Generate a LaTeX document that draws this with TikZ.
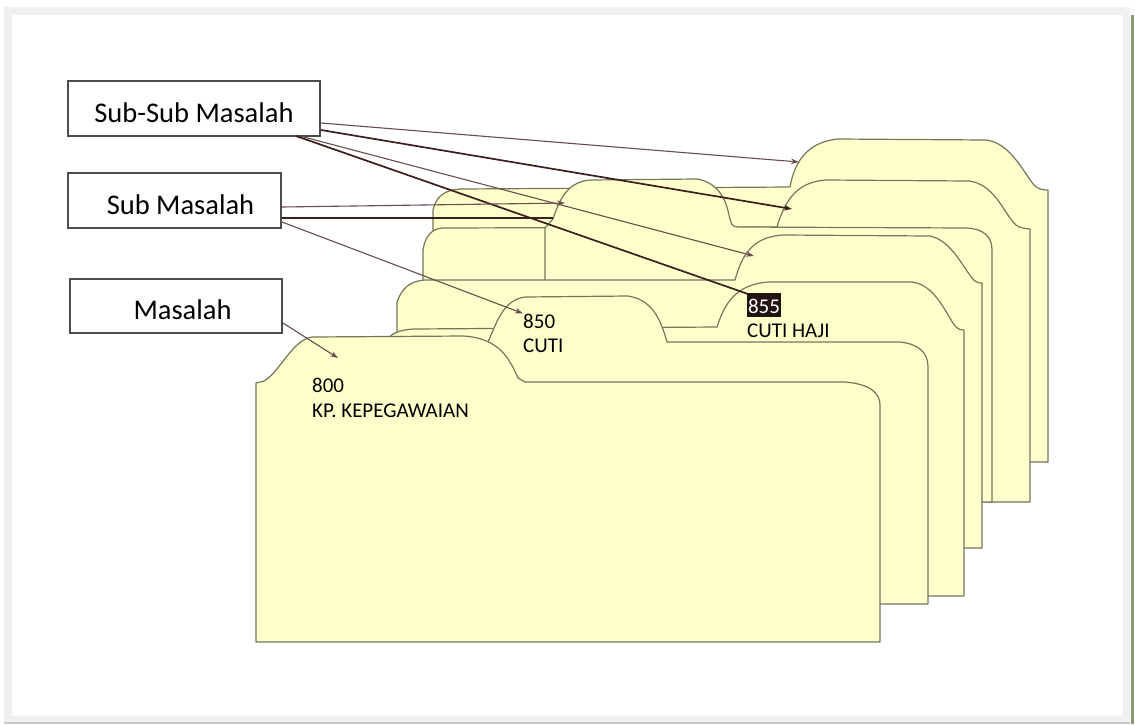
\documentclass[tikz,border=0pt]{standalone}
\usepackage{fontspec}
\setmainfont{Carlito}
\usetikzlibrary{arrows.meta}
\definecolor{folderfill}{HTML}{FFFFCC}
\definecolor{folderline}{HTML}{76765F}
\definecolor{arrowcol}{HTML}{3D1E1E}
\definecolor{arrowthin}{HTML}{6A4C4C}
\definecolor{framegray}{HTML}{F0F0F0}
\definecolor{frameedge}{HTML}{8A9A70}
\definecolor{hlbox}{HTML}{231212}
\begin{document}
\begin{tikzpicture}[x=1pt,y=-1pt,
  folder/.style={fill=folderfill,draw=folderline,line width=1.2pt,line join=round},
  mbox/.style={draw=black!70,line width=2.4pt,fill=white,inner sep=0pt,
    font=\fontsize{28.5}{34}\selectfont,text height=27pt,text depth=0pt},
  lbl/.style={font=\fontsize{21}{25}\selectfont,inner sep=0pt},
  thinarrow/.style={draw=arrowthin,line width=1.1pt,-{Stealth[length=8pt,width=5.5pt]}},
  thickarrow/.style={draw=arrowcol,line width=1.7pt,-{Stealth[length=8pt,width=5.5pt]}},
  thickline/.style={draw=arrowcol,line width=1.7pt}]
% background and frame
\fill[white] (0,0) rectangle (1135,724);
\fill[framegray,even odd rule] (4,7) rectangle (1130,722) (12,15) rectangle (1123,716);
\fill[frameedge] (1130.5,15) rectangle (1133.5,724);
\fill[black!22] (4,722) rectangle (1130,724);
\useasboundingbox (0,0) rectangle (1135,724);

% S1 backmost, tab at right
\path[folder] (433,462) -- (433,210) .. controls (436,196) and (445,190) .. (460,189)
  -- (790,187) .. controls (794,165) and (805,142) .. (838,139)
  -- (986,140) .. controls (1010,143) and (1022,170) .. (1034,185)
  .. controls (1038,189) and (1042,190) .. (1048,190) -- (1048,462) -- cycle;
% S2
\path[folder] (423,502) -- (423,250) .. controls (425,236) and (432,229) .. (442,228)
  -- (777,227) .. controls (785,200) and (797,182) .. (826,180)
  -- (969,181) .. controls (993,184) and (1003,210) .. (1013,222)
  .. controls (1017,227) and (1020,228) .. (1030,229) -- (1030,502) -- cycle;
% S3 front panel, tab at left
\path[folder] (545,502) -- (545,228) -- (553,219) .. controls (560,198) and (568,182) .. (590,180)
  -- (697,179) .. controls (715,182) and (725,195) .. (729,215)
  .. controls (731,224) and (732,227) .. (738,227)
  -- (967,228) .. controls (983,229) and (992,236) .. (992,250) -- (992,502) -- cycle;
% S4
\path[folder] (397,548) -- (397,302) .. controls (402,288) and (410,281) .. (425,280)
  -- (735,280) .. controls (742,255) and (752,237) .. (783,235)
  -- (930,236) .. controls (950,240) and (962,265) .. (972,278)
  .. controls (975,282) and (978,283) .. (982,283) -- (982,548) -- cycle;
% S5 (855 tab)
\path[folder] (386,596) -- (386,342) .. controls (390,333) and (400,330) .. (413,329)
  -- (717,327) .. controls (724,305) and (735,284) .. (769,282)
  -- (912,282) .. controls (935,285) and (945,312) .. (955,326)
  .. controls (958,329) and (960,330) .. (964,330) -- (964,596) -- cycle;
% S6 (850 tab)
\path[folder] (488,604) -- (488,342) .. controls (497,322) and (503,300) .. (525,297)
  -- (628,296) .. controls (655,300) and (662,325) .. (667,342)
  -- (900,342) .. controls (918,344) and (928,352) .. (928,367) -- (928,604) -- cycle;
% S7 (800) front
\path[folder] (256,642) -- (256,383) -- (264,381) .. controls (280,372) and (292,340) .. (312,337)
  -- (463,336) .. controls (500,338) and (510,360) .. (518,378) -- (525,382)
  -- (845,382) .. controls (870,384) and (880,393) .. (880,405) -- (880,642) -- cycle;

% boxes
\node[mbox,minimum width=252pt,minimum height=55pt] (ssm) at (194,108.5) {Sub-Sub Masalah};
\node[mbox,minimum width=213pt,minimum height=55pt] (sm) at (174.5,200.5) {\hspace*{12pt}Sub Masalah};
\node[mbox,minimum width=212pt,minimum height=54pt] (m) at (176,306) {\hspace*{13pt}Masalah};

% labels
\node[lbl,anchor=base west] (l800) at (312,392) {800};
\node[lbl,anchor=base west] (l800b) at (312,417) {KP. KEPEGAWAIAN};
\node[lbl,anchor=base west] (l850) at (523,328) {850};
\node[lbl,anchor=base west] (l850b) at (523,352) {CUTI};
\node[lbl,anchor=base west] (l855b) at (747,337) {CUTI HAJI};

% connector end points
\coordinate (a1s) at (321,123);
\coordinate (a2s) at (321,130);
\coordinate (a3s) at (300,136);
\coordinate (a4s) at (296,136);
\coordinate (b1s) at (282,207);
\coordinate (b2s) at (282,218);
\coordinate (b3s) at (282,222);
\coordinate (c1s) at (283,323);
\coordinate (t1) at (799,162);
\coordinate (t2) at (792,209);
\coordinate (t3) at (754,256);
\coordinate (t5) at (565,203);
\coordinate (t6) at (553,218);
\coordinate (t8) at (338,358);

% connectors
\draw[thinarrow] (a1s) -- (t1);
\draw[thickarrow] (a2s) -- (t2);
\draw[thinarrow] (a3s) -- (t3);
\draw[thickline] (a4s) -- (748,294);
\draw[thinarrow] (b1s) -- (t5);
\draw[thickline] (b2s) -- (t6);
\draw[thinarrow] (b3s) -- (l850.north west);
\draw[thinarrow] (c1s) -- (t8);

% 855 highlighted
\node[lbl,anchor=base west,fill=hlbox,text=white,inner xsep=0.8pt,text height=20pt,text depth=4pt] (l855) at (747,313) {855};
\end{tikzpicture}
\end{document}
